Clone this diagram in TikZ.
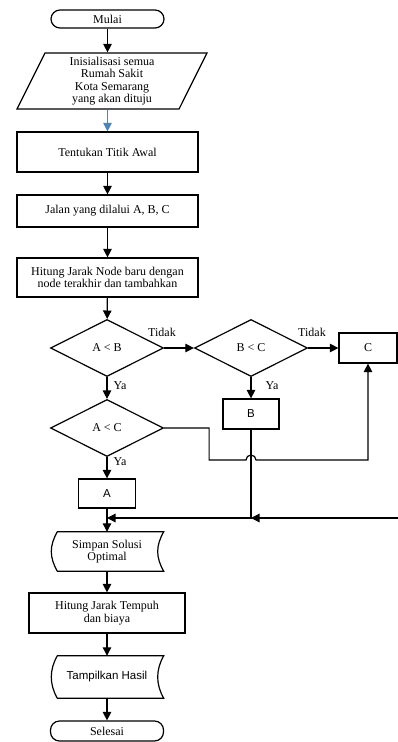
\documentclass[tikz,border=0pt]{standalone}
\usepackage{fontspec}
\setmainfont{Liberation Serif}
\setsansfont{Liberation Sans}
\usetikzlibrary{arrows.meta}
\usetikzlibrary{shapes.geometric}
\definecolor{lblue}{HTML}{4F81BD}
\newcommand\storeshape[1]{%
  \draw[ln] ([xshift=7pt]#1.north west) -- (#1.north east)
    .. controls +(-8,14) and +(-8,-14) .. (#1.south east)
    -- ([xshift=7pt]#1.south west)
    .. controls +(-8,-14) and +(-8,14) .. ([xshift=7pt]#1.north west) -- cycle;}
\tikzstyle{arrhead}=[>/.tip={Triangle[length=8.5pt,width=8.5pt]}]
\tikzstyle{ln}=[line width=1.2pt,arrhead]
\tikzstyle{arr}=[ln,->]
\tikzstyle{arrb}=[arr,lblue]
\tikzstyle{txt}=[font=\fontsize{12}{12.5}\selectfont]
\tikzstyle{box}=[draw,line width=1.2pt,txt,align=center,inner sep=0pt]
\tikzstyle{term}=[box,rounded corners=9pt,minimum width=113pt,minimum height=18pt]
\tikzstyle{proc}=[box,minimum width=181pt,minimum height=39pt]
\tikzstyle{sml}=[box,minimum width=57pt,minimum height=30pt]
\tikzstyle{io}=[box,trapezium,trapezium left angle=60,trapezium right angle=120,
  trapezium stretches body,minimum width=190pt,minimum height=56pt]
\tikzstyle{dec}=[box,diamond,aspect=2,minimum width=113pt,minimum height=57pt]
\tikzstyle{sto}=[txt,align=center,inner sep=0pt,minimum width=113pt]
\tikzstyle{lbl}=[txt]
\begin{document}
\begin{tikzpicture}[x=1pt,y=-1pt]
	\useasboundingbox (0,0) rectangle (398,742);
	% main column
	\node[term] (mulai) at (107.5,19) {Mulai};
	\node[io] (init) at (112,81) {Inisialisasi semua\\Rumah Sakit\\Kota Semarang\\yang akan dituju};
	\node[proc,minimum height=40pt] (awal) at (107.5,152) {Tentukan Titik Awal};
	\node[proc,minimum height=32pt] (jalan) at (107.5,211) {Jalan yang dilalui A, B, C};
	\node[proc] (hitung) at (107.5,277.5) {Hitung Jarak Node baru dengan\\node terakhir dan tambahkan};
	\node[dec] (ab) at (107,348) {A < B};
	\node[dec] (bc) at (251,348) {B < C};
	\node[sml,minimum width=58pt] (C) at (368,348) {C};
	\node[dec] (ac) at (107,428) {A < C};
	\node[sml,font=\sffamily\fontsize{11.5}{12}\selectfont,minimum width=56pt] (B) at (251,414) {B};
	\node[sml,font=\sffamily\fontsize{11.5}{12}\selectfont,minimum height=29pt] (A) at (107,493.5) {A};
	\node[sto,minimum height=39pt] (simpan) at (107,551.5) {Simpan Solusi\\Optimal};
	\storeshape{simpan}
	\node[proc,minimum width=156pt,minimum height=40pt] (tempuh) at (107,613) {Hitung Jarak Tempuh\\dan biaya};
	\node[sto,font=\sffamily\fontsize{11.5}{12}\selectfont,minimum height=42pt] (tampil) at (107,677) {Tampilkan Hasil};
	\storeshape{tampil}
	\node[term,minimum height=20pt] (selesai) at (107,731) {Selesai};
	% labels
	\node[lbl] (t1) at (162,332) {Tidak};
	\node[lbl] (t2) at (312,332) {Tidak};
	\node[lbl] (y1) at (120,386) {Ya};
	\node[lbl] (y2) at (272,386) {Ya};
	\node[lbl] (y3) at (120,462) {Ya};
	\coordinate (hop) at (251,460);
	\coordinate (jn) at (107,518);
	\coordinate (jb) at (251,518);
	% connectors
	\draw[arr]  (mulai) -- (mulai.south |- init.north);
	\draw[arrb] (awal.north |- init.south) -- (awal);
	\draw[arr]  (awal) -- (jalan);
	\draw[arr]  (jalan) -- (hitung);
	\draw[arr]  (hitung) -- (ab);
	\draw[arr]  (ab) -- (bc);
	\draw[arr]  (bc) -- (C);
	\draw[arr]  (ab) -- (ac);
	\draw[arr]  (bc) -- (B);
	\draw[arr]  (ac) -- (A);
	\draw[arr]  (ac.east) -- ++(45,0) |- ([xshift=-5pt]hop) arc[start angle=180,end angle=0,radius=5pt] -| (C);
	\draw[arr]  (B) |- (jn);
	\draw[arr]  (C.east) -- ++(14,0) |- (jb);
	\draw[arr]  (A) -- (simpan);
	\draw[arr]  (simpan) -- (tempuh);
	\draw[arr]  (tempuh) -- (tampil);
	\draw[arr]  (tampil) -- (selesai);
\end{tikzpicture}
\end{document}
